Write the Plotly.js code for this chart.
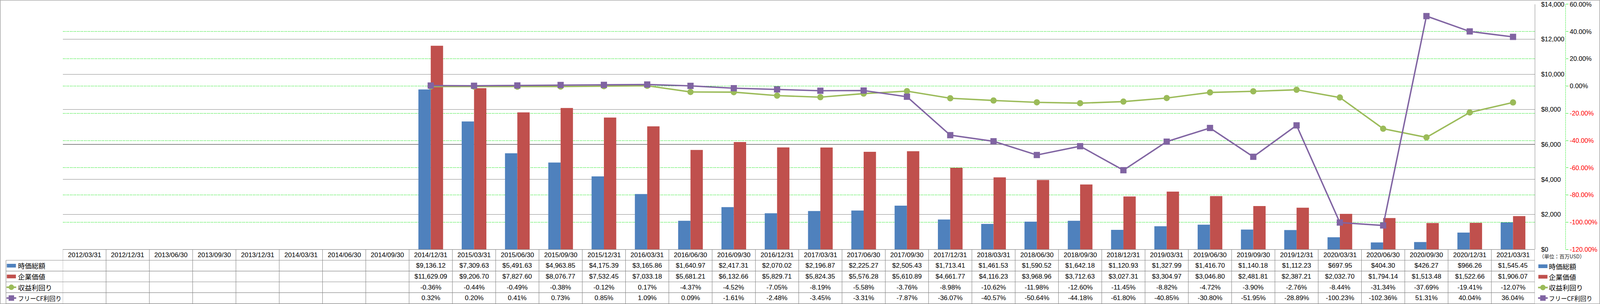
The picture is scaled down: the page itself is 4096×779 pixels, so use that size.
<!DOCTYPE html>
<html><head><meta charset="utf-8">
<script src="https://cdn.plot.ly/plotly-3.0.1.min.js"></script>
<style>html,body{margin:0;padding:0;background:#fff;overflow:hidden}</style>
</head><body><div id="chart" style="width:4096px;height:779px"></div>
<script>
// ---------- data ----------
const dates = ['2012/03/31','2012/12/31','2013/06/30','2013/09/30','2013/12/31','2014/03/31','2014/06/30','2014/09/30',
  '2014/12/31','2015/03/31','2015/06/30','2015/09/30','2015/12/31','2016/03/31','2016/06/30','2016/09/30',
  '2016/12/31','2017/03/31','2017/06/30','2017/09/30','2017/12/31','2018/03/31','2018/06/30','2018/09/30',
  '2018/12/31','2019/03/31','2019/06/30','2019/09/30','2019/12/31','2020/03/31','2020/06/30','2020/09/30',
  '2020/12/31','2021/03/31'];
const marketCap = [null,null,null,null,null,null,null,null,
  9136.12,7309.63,5491.63,4963.85,4175.39,3165.86,1640.97,2417.31,
  2070.02,2196.87,2225.27,2505.43,1713.41,1461.53,1590.52,1642.18,
  1120.93,1327.99,1416.70,1140.18,1112.23,697.95,404.30,426.27,
  966.26,1545.45];
const enterpriseValue = [null,null,null,null,null,null,null,null,
  11629.09,9206.70,7827.60,8076.77,7532.45,7033.18,5681.21,6132.66,
  5829.71,5824.35,5576.28,5610.89,4661.77,4116.23,3968.96,3712.63,
  3027.31,3304.97,3046.80,2481.81,2387.21,2032.70,1794.14,1513.48,
  1522.66,1906.07];
const earningsYield = [null,null,null,null,null,null,null,null,
  -0.36,-0.44,-0.49,-0.38,-0.12,0.17,-4.37,-4.52,
  -7.05,-8.19,-5.58,-3.76,-8.98,-10.62,-11.98,-12.60,
  -11.45,-8.82,-4.72,-3.90,-2.76,-8.44,-31.34,-37.69,
  -19.41,-12.07];
const fcfYield = [null,null,null,null,null,null,null,null,
  0.32,0.20,0.41,0.73,0.85,1.09,0.09,-1.61,
  -2.48,-3.45,-3.31,-7.87,-36.07,-40.57,-50.64,-44.18,
  -61.80,-40.85,-30.80,-51.95,-28.89,-100.23,-102.36,51.31,
  40.04,36.04];
const seriesNames = ['時価総額','企業価値','収益利回り','フリーCF利回り'];
const usdTicks = [0,2000,4000,6000,8000,10000,12000,14000];
const pctTicks = [-120,-100,-80,-60,-40,-20,0,20,40,60];
const unitLabel = '（単位：百万USD）';

// ---------- styling ----------
const RW = 5633, RH = 1071, S = 4096/5633;
const px = x => x / RW;
const py = y => 1 - y / RH;
const COL = {blue:'#4F81BD', red:'#C0504D', green:'#9BBB59', purple:'#8064A2', grid:'#868686', gg:'#19e619'};
const LAT = 'Liberation Sans, Arial, sans-serif';
const JP = 'Noto Sans CJK JP, sans-serif';
const plotL = 221, plotR = 5403, plotT = 15, plotB = 879;
const rowLines = [879, 917, 955, 993, 1031, 1070];
const rowCenters = [898, 936, 974, 1012, 1050];

const fmtUSD = v => '$' + v.toLocaleString('en-US',{minimumFractionDigits:2, maximumFractionDigits:2});
const fmtPct = v => v.toFixed(2) + '%';

const traces = [
  {type:'bar', name:seriesNames[0], x:dates, y:marketCap, marker:{color:COL.blue}, yaxis:'y', hoverinfo:'skip'},
  {type:'bar', name:seriesNames[1], x:dates, y:enterpriseValue, marker:{color:COL.red}, yaxis:'y', hoverinfo:'skip'},
  {type:'scatter', mode:'lines+markers', name:seriesNames[2], x:dates, y:earningsYield, yaxis:'y2',
    line:{color:COL.green, width:3.6}, marker:{symbol:'circle', size:16, color:COL.green}, hoverinfo:'skip'},
  {type:'scatter', mode:'lines+markers', name:seriesNames[3], x:dates, y:fcfYield, yaxis:'y2',
    line:{color:COL.purple, width:3.6}, marker:{symbol:'square', size:16, color:COL.purple}, hoverinfo:'skip'}
];

const shapes = [];
const annotations = [];
const lineW = 1.1;
// outer frame
shapes.push({type:'rect', xref:'paper', yref:'paper', x0:px(1), x1:px(RW-1), y0:py(RH-1), y1:py(1), line:{color:COL.grid, width:lineW}});
// secondary axis dashed line
shapes.push({type:'line', xref:'paper', yref:'paper', x0:px(5511.7), x1:px(5511.7), y0:py(plotT), y1:py(plotB), line:{color:COL.gg, width:1, dash:'3px,1.5px'}});
// table horizontal lines
rowLines.forEach((y, i) => {
  shapes.push({type:'line', xref:'paper', yref:'paper', x0:px(i === 0 ? plotL : 21), x1:px(plotR), y0:py(y), y1:py(y), line:{color:COL.grid, width:lineW}});
});
// table vertical lines
for (let i = 0; i <= dates.length; i++) {
  shapes.push({type:'line', xref:'x', yref:'paper', x0:i - 0.5, x1:i - 0.5, y0:py(rowLines[0]), y1:py(rowLines[5]), line:{color:COL.grid, width:lineW}});
}
shapes.push({type:'line', xref:'paper', yref:'paper', x0:px(21), x1:px(21), y0:py(rowLines[1]), y1:py(rowLines[5]), line:{color:COL.grid, width:lineW}});

// header dates
dates.forEach(d => annotations.push({xref:'x', yref:'paper', x:d, y:py(rowCenters[0]), text:d, showarrow:false,
  xanchor:'center', yanchor:'middle', font:{family:LAT, size:17, color:'#000'}}));
// cell values
const rows = [[marketCap, fmtUSD],[enterpriseValue, fmtUSD],[earningsYield, fmtPct],[fcfYield, fmtPct]];
rows.forEach(([arr, fmt], r) => {
  arr.forEach((v, i) => {
    if (v === null) return;
    annotations.push({xref:'x', yref:'paper', x:dates[i], y:py(rowCenters[r+1]), text:fmt(v), showarrow:false,
      xanchor:'center', yanchor:'middle', font:{family:LAT, size:17, color:'#000'}});
  });
});

// legend icon helper
function icon(cx, cy, k) {
  // cx, cy in reference px
  const colors = [COL.blue, COL.red, COL.green, COL.purple];
  if (k < 2) {
    shapes.push({type:'rect', xref:'paper', yref:'paper', x0:px(cx-16), x1:px(cx+16), y0:py(cy+6.5), y1:py(cy-6.5), fillcolor:colors[k], line:{width:0}});
  } else {
    shapes.push({type:'line', xref:'paper', yref:'paper', x0:px(cx-17), x1:px(cx+17), y0:py(cy), y1:py(cy), line:{color:colors[k], width:4}});
    shapes.push({type: k === 2 ? 'circle' : 'rect', xref:'paper', yref:'paper', xsizemode:'pixel', ysizemode:'pixel',
      xanchor:px(cx), yanchor:py(cy), x0:-7, x1:7, y0:-7, y1:7, fillcolor:colors[k], line:{width:0}});
  }
}
// row-label legend
seriesNames.forEach((n, k) => {
  icon(40, rowCenters[k+1], k);
  annotations.push({xref:'paper', yref:'paper', x:px(60), y:py(rowCenters[k+1]), text:n, showarrow:false,
    xanchor:'left', yanchor:'middle', font:{family:JP, size: k === 3 ? 15.5 : 17.5, color:'#000'}});
});
// right legend
const legY = [938, 975, 1013, 1050];
seriesNames.forEach((n, k) => {
  icon(5432, legY[k], k);
  annotations.push({xref:'paper', yref:'paper', x:px(5450), y:py(legY[k]), text:n, showarrow:false,
    xanchor:'left', yanchor:'middle', font:{family:JP, size: k === 3 ? 15.5 : 17.5, color:'#000'}});
});
annotations.push({xref:'paper', yref:'paper', x:px(5416), y:py(903), text:unitLabel, showarrow:false,
  xanchor:'left', yanchor:'middle', font:{family:JP, size:13, color:'#222'}});

const layout = {
  width:4096, height:779, margin:{l:0, r:0, t:0, b:0}, paper_bgcolor:'#fff', plot_bgcolor:'rgba(0,0,0,0)',
  showlegend:false, barmode:'group', bargap:0.43, bargroupgap:0,
  font:{family:LAT, color:'#000'},
  xaxis:{type:'category', domain:[px(plotL), px(plotR)], range:[-0.5, dates.length - 0.5], showticklabels:false,
    showgrid:false, zeroline:false, showline:false, ticks:'', fixedrange:true},
  yaxis:{domain:[py(plotB), py(plotT)], range:[0, 14000], side:'right', tickvals:usdTicks,
    ticktext:usdTicks.map(v => '$' + v.toLocaleString('en-US')), showgrid:true, gridcolor:COL.grid, gridwidth:lineW,
    zeroline:false, showline:true, linecolor:COL.grid, linewidth:lineW, ticks:'', automargin:false,
    tickfont:{family:LAT, size:16.5, color:'#000'}, ticklabelstandoff:12},
  yaxis2:{domain:[py(plotB), py(plotT)], range:[-120, 60], overlaying:'y', side:'right', anchor:'free', position:px(5511.7),
    tickvals:pctTicks, ticktext:pctTicks.map(v => v < 0 ? '<span style="color:#FF0000">' + v.toFixed(2) + '%</span>' : v.toFixed(2) + '%'),
    showgrid:true, gridcolor:COL.gg, gridwidth:1, griddash:'3px,1.5px', zeroline:false, showline:false,
    ticks:'outside', ticklen:6.5, tickcolor:COL.gg, tickwidth:1, automargin:false,
    tickfont:{family:LAT, size:16.5, color:'#000'}},
  shapes: shapes,
  annotations: annotations
};
Plotly.newPlot('chart', traces, layout, {staticPlot:true, displayModeBar:false});
</script></body></html>
